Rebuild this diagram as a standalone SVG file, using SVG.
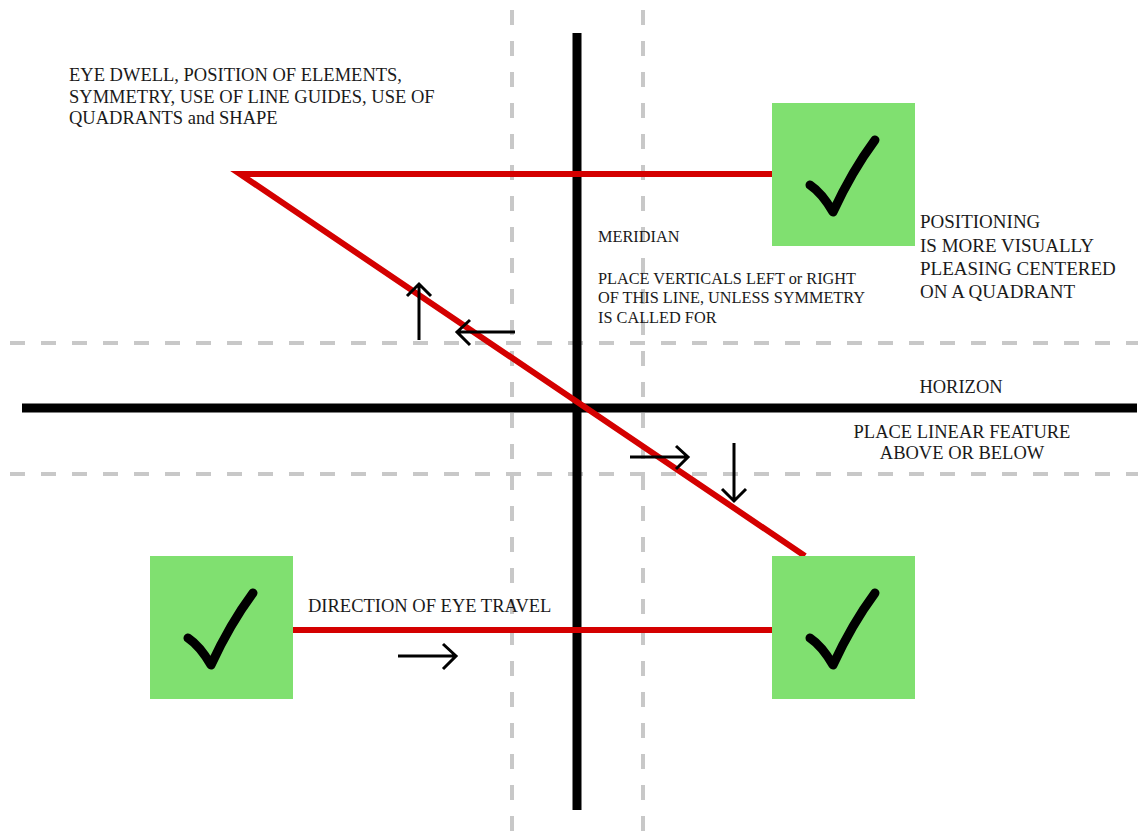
<svg xmlns="http://www.w3.org/2000/svg" width="1138" height="831" viewBox="0 0 1138 831">
<defs>
<style>
.guide{stroke:#c8c8c8;stroke-width:4;stroke-dasharray:15 16;fill:none}
.axis{stroke:#000;stroke-width:9;fill:none}
.red{stroke:#d40000;stroke-width:6;fill:none}
.arr{stroke:#000;stroke-width:3;fill:none;stroke-linecap:butt}
.box{fill:#80e070}
.chk{stroke:#000;stroke-width:9;fill:none;stroke-linecap:round;stroke-linejoin:round}
text{font-family:"Liberation Serif","Times New Roman",serif;fill:#1a1a1a}
.t18{font-size:18.5px}
.t16{font-size:16.3px}
.t19{font-size:19px}
</style>
<g id="check"><path class="chk" d="M38,82 Q50,90 61,109 Q80,68 103,37"/></g>
</defs>
<rect width="1138" height="831" fill="#fff"/>
<g id="guides">
<line class="guide" x1="512" y1="10" x2="512" y2="831"/>
<line class="guide" x1="643" y1="10" x2="643" y2="831"/>
<line class="guide" x1="10" y1="343" x2="1138" y2="343"/>
<line class="guide" x1="10" y1="474" x2="1138" y2="474"/>
</g>
<g id="axes">
<line class="axis" x1="577" y1="33" x2="577" y2="810"/>
<line class="axis" x1="22" y1="408" x2="1137" y2="408"/>
</g>
<g id="connectors">
<polyline class="red" points="772,174 240,174 805,556"/>
<line class="red" x1="293" y1="630" x2="772" y2="630"/>
<path class="arr" d="M419,340 V284 M407,296 L419,284 L431,296"/>
<path class="arr" d="M515,332 H457 M470,320 L457,332 L470,345"/>
<path class="arr" d="M630,457 H688 M676,446 L688,457 L676,469"/>
<path class="arr" d="M734,443 V501 M722,489 L734,501 L746,489"/>
<path class="arr" d="M398,656 H456 M443,644 L456,656 L443,669"/>
</g>
<g id="box-top-right">
<rect class="box" x="772" y="103" width="143" height="143"/>
<use href="#check" x="772" y="103"/>
</g>
<g id="box-bottom-left">
<rect class="box" x="150" y="556" width="143" height="143"/>
<use href="#check" x="150" y="556"/>
</g>
<g id="box-bottom-right">
<rect class="box" x="772" y="556" width="143" height="143"/>
<use href="#check" x="772" y="556"/>
</g>
<g id="label-eye-dwell">
<text class="t18" x="69" y="81">EYE DWELL, POSITION OF ELEMENTS,</text>
<text class="t18" x="69" y="103">SYMMETRY, USE OF LINE GUIDES, USE OF</text>
<text class="t18" x="69" y="124">QUADRANTS and SHAPE</text>
</g>
<g id="label-meridian">
<text class="t16" x="598" y="242">MERIDIAN</text>
<text class="t16" x="598" y="284">PLACE VERTICALS LEFT or RIGHT</text>
<text class="t16" x="598" y="303">OF THIS LINE, UNLESS SYMMETRY</text>
<text class="t16" x="598" y="323">IS CALLED FOR</text>
</g>
<g id="label-positioning">
<text class="t19" x="920" y="228">POSITIONING</text>
<text class="t19" x="920" y="252">IS MORE VISUALLY</text>
<text class="t19" x="920" y="275">PLEASING CENTERED</text>
<text class="t19" x="920" y="298">ON A QUADRANT</text>
</g>
<g id="label-horizon">
<text class="t18" x="961" y="393" text-anchor="middle">HORIZON</text>
<text class="t18" x="962" y="438" text-anchor="middle">PLACE LINEAR FEATURE</text>
<text class="t18" x="962" y="459" text-anchor="middle">ABOVE OR BELOW</text>
</g>
<g id="label-direction">
<text class="t18" x="308" y="612">DIRECTION OF EYE TRAVEL</text>
</g>
</svg>
